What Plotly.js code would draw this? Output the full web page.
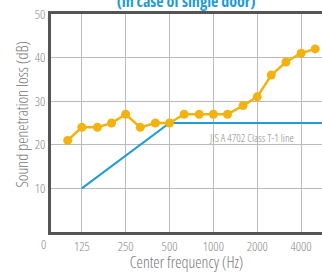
<!DOCTYPE html>
<html><head><meta charset="utf-8">
<script src="https://cdn.plot.ly/plotly-3.0.1.min.js"></script>
<style>html,body{margin:0;padding:0;background:#fff;}#chart{width:322px;height:273px;}
#chart text{font-stretch:condensed !important;}</style>
</head><body><div id="chart"></div>
<script>
const freqs = [100,125,160,200,250,315,400,500,630,800,1000,1250,1600,2000,2500,3150,4000,5000];
const loss = [21,24,24,25,27,24,25,25,27,27,27,27,29,31,36,39,41,42];
const jisFreqs = [125,500,6300];
const jisLoss = [10,25,25];
const xTickVals = [125,250,500,1000,2000,4000];
const xTickText = ['125','250','500','1000','2000','4000'];
const yTickVals = [10,20,30,40,50];

const font = 'Open Sans, sans-serif';
const traces = [
  {x: jisFreqs, y: jisLoss, type:'scatter', mode:'lines', line:{color:'#1f9bd7', width:2}, hoverinfo:'skip'},
  {x: freqs, y: loss, type:'scatter', mode:'lines+markers', line:{color:'#f2b20f', width:2.5},
   marker:{color:'#f2b20f', size:9}}
];
const layout = {
  width:322, height:273,
  margin:{l:51, r:0, t:14, b:41},
  showlegend:false,
  paper_bgcolor:'#fff', plot_bgcolor:'#fff',
  font:{family:font, color:'#888'},
  xaxis:{type:'log', range:[Math.log10(76.8), Math.log10(5568)], tickvals:xTickVals, ticktext:xTickText,
    showgrid:true, gridcolor:'#bbb', gridwidth:1, zeroline:false,
    showline:true, mirror:true, linecolor:'#555', linewidth:3, ticks:'',
    tickfont:{size:13, color:'#888', family:font, weight:300},
    title:{text:'Center frequency (Hz)', font:{size:16, color:'#777', family:font, weight:300}, standoff:5}},
  yaxis:{range:[0,50], tickvals:yTickVals, showgrid:true, gridcolor:'#bbb', gridwidth:1, zeroline:false,
    showline:true, mirror:false, linecolor:'#555', linewidth:3, ticks:'',
    tickfont:{size:13, color:'#888', family:font, weight:300}},
  annotations:[
    {text:'<b>(in case of single door)</b>', xref:'paper', yref:'paper', x:0.498, y:1.06,
     xanchor:'center', yanchor:'middle', showarrow:false,
     font:{size:16, color:'#1f9bd7', family:font}},
    {text:'Sound penetration loss (dB)', textangle:-90, xref:'paper', yref:'paper', x:-0.107, y:0.541,
     xanchor:'center', yanchor:'middle', showarrow:false,
     font:{size:16, color:'#777', family:font, weight:300}},
    {text:'JIS A 4702 Class T-1 line', xref:'paper', yref:'y', x:0.963, y:21.6, xanchor:'right', yanchor:'middle',
     showarrow:false, font:{size:11, color:'#888', family:font, weight:300}},
    {text:'0', xref:'paper', yref:'paper', x:-0.026, y:-0.055, xanchor:'center', yanchor:'middle',
     showarrow:false, font:{size:13, color:'#888', family:font, weight:300}}
  ]
};
Plotly.newPlot('chart', traces, layout, {displayModeBar:false, staticPlot:true});
</script></body></html>
